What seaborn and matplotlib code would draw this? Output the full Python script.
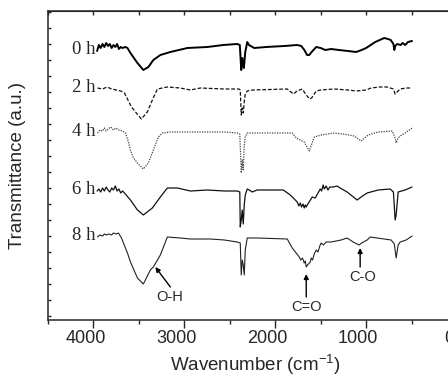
import pandas as pd
import matplotlib
matplotlib.use("Agg")
import matplotlib.pyplot as plt
import matplotlib.transforms as mtrans
from matplotlib.ticker import MultipleLocator, FixedLocator, NullFormatter
import seaborn as sns
import numpy as np

# FTIR spectra (wavenumber in cm-1, transmittance in a.u., curves already stacked)
wn_0h = [3960, 3940, 3920, 3900, 3880, 3860, 3840, 3820, 3800, 3780, 3760, 3740, 3720, 3700, 3680, 3650,
         3626, 3593, 3516, 3451, 3396, 3341, 3264, 3154, 2967, 2747, 2571, 2420, 2390, 2374, 2362, 2345,
         2330, 2308, 2290, 2231, 2100, 1900, 1760, 1714, 1680, 1650, 1626, 1600, 1549, 1500, 1450, 1385,
         1300, 1200, 1110, 1050, 1000, 950, 900, 850, 802, 760, 730, 700, 690, 680, 660, 620, 600, 570,
         540, 495]
t_0h = [269, 275, 272, 276, 273, 277, 274, 276, 272, 275, 273, 276, 271, 273, 272, 273,
        272, 267, 257, 250, 253, 260, 265, 268, 272, 273, 275, 276, 275, 250, 262, 252,
        268, 278, 275, 272, 273, 274, 275, 274, 270, 265, 265, 268, 273, 272, 270, 271,
        270, 269, 268, 270, 272, 275, 278, 280, 282, 281, 280, 276, 270, 274, 276, 275, 277, 275,
        278, 279]

wn_2h = [3956, 3900, 3850, 3800, 3750, 3700, 3659, 3582, 3473, 3407, 3352, 3297, 3187, 3044, 2934,
         2824, 2560, 2400, 2385, 2374, 2363, 2352, 2341, 2330, 2308, 2250, 1868, 1800, 1760, 1703,
         1660, 1620, 1600, 1549, 1500, 1352, 1200, 1110, 1000, 945, 850, 769, 700, 681, 660, 626,
         560, 495]
t_2h = [232, 231, 233, 231, 230, 229, 227, 213, 201, 208, 220, 231, 233, 232, 230,
        232, 231, 231, 230, 205, 212, 207, 218, 226, 229, 230, 231, 226, 229, 231,
        225, 221, 222, 229, 230, 231, 230, 229, 230, 232, 233, 233, 231, 226, 228, 231,
        232, 232]

wn_4h = [3956, 3930, 3900, 3880, 3860, 3840, 3810, 3780, 3750, 3720, 3680, 3648, 3615, 3593, 3560,
         3516, 3451, 3396, 3341, 3286, 3242, 3154, 2934, 2560, 2418, 2390, 2374, 2363, 2352, 2341,
         2330, 2308, 2200, 1813, 1769, 1681, 1626, 1571, 1495, 1352, 1250, 1132, 1055, 978, 868,
         714, 681, 670, 648, 626, 571, 495]
t_4h = [187, 190, 189, 192, 189, 191, 193, 190, 192, 190, 189, 187, 178, 170, 162,
        157, 151, 157, 170, 183, 187, 188, 188, 188, 187, 186, 147, 160, 150, 175,
        183, 187, 187, 187, 182, 178, 169, 183, 185, 187, 186, 184, 179, 185, 188,
        189, 182, 177, 182, 184, 187, 192]

wn_6h = [3960, 3940, 3920, 3900, 3880, 3860, 3840, 3820, 3800, 3780, 3760, 3740, 3720, 3700, 3680,
         3659, 3593, 3516, 3451, 3352, 3264, 3187, 3077, 2934, 2747, 2560, 2418, 2390, 2385, 2374,
         2363, 2352, 2341, 2330, 2308, 2286, 2253, 2200, 1912, 1835, 1758, 1740, 1725, 1710, 1695,
         1681, 1670, 1659, 1648, 1593, 1560, 1505, 1490, 1473, 1460, 1440, 1420, 1400, 1363, 1320,
         1286, 1209, 1154, 1099, 1040, 989, 868, 736, 700, 681, 670, 648, 571, 495]
t_6h = [129, 131, 128, 132, 129, 133, 130, 128, 132, 130, 134, 129, 131, 127, 129,
        127, 120, 110, 105, 112, 123, 132, 132, 129, 130, 129, 129, 128, 93, 100,
        110, 96, 115, 125, 131, 130, 128, 130, 130, 125, 118, 114, 117, 113, 116,
        112, 115, 113, 115, 123, 122, 131, 129, 135, 131, 134, 130, 133, 133, 134,
        132, 128, 124, 120, 124, 127, 130, 131, 128, 100, 105, 128, 130, 133]

wn_8h = [3956, 3930, 3900, 3880, 3860, 3830, 3800, 3780, 3750, 3725, 3692, 3626, 3593, 3516, 3451,
         3374, 3341, 3264, 3187, 3044, 2934, 2714, 2560, 2418, 2385, 2374, 2363, 2352, 2341, 2330,
         2308, 2198, 1868, 1813, 1736, 1720, 1700, 1681, 1670, 1659, 1645, 1615, 1604, 1590, 1571,
         1549, 1530, 1510, 1495, 1470, 1440, 1385, 1275, 1209, 1143, 1077, 1050, 989, 956, 879,
         725, 690, 670, 648, 626, 560, 495]
t_8h = [83, 85, 84, 86, 85, 86, 85, 87, 86, 87, 82, 67, 58, 42, 36,
        50, 53, 65, 83, 82, 81, 81, 80, 78, 77, 45, 60, 55, 45, 70,
        82, 82, 81, 72, 63, 60, 62, 57, 59, 53, 55, 58, 62, 60, 66,
        70, 68, 74, 77, 75, 78, 78, 80, 82, 78, 75, 77, 80, 83, 82,
        80, 76, 62, 75, 78, 80, 84]

labels = ["0 h", "2 h", "4 h", "6 h", "8 h"]
series_wn = [wn_0h, wn_2h, wn_4h, wn_6h, wn_8h]
series_t = [t_0h, t_2h, t_4h, t_6h, t_8h]

df = pd.concat([pd.DataFrame({"wn": w, "t": t, "time": lab})
                for lab, w, t in zip(labels, series_wn, series_t)], ignore_index=True)

sns.set_style("ticks")
plt.rcParams["font.family"] = ["Liberation Sans", "DejaVu Sans"]
plt.rcParams["mathtext.default"] = "regular"
plt.rcParams["ytick.direction"] = "in"

fig = plt.figure(figsize=(4.48, 3.78), dpi=100)
ax = fig.add_axes([48 / 448, 58 / 378, 454.5 / 448, 309 / 378])

styles = {
    "0 h": dict(color="black", lw=1.4, ls="-"),
    "2 h": dict(color="#111111", lw=0.9, ls=(0, (3, 1.5))),
    "4 h": dict(color="#444444", lw=0.9, ls=(0, (1, 1))),
    "6 h": dict(color="#111111", lw=0.9, ls="-"),
    "8 h": dict(color="#222222", lw=0.8, ls="-"),
}
for lab in labels:
    sub = df[df["time"] == lab]
    st = styles[lab]
    sns.lineplot(data=sub, x="wn", y="t", ax=ax, sort=False, estimator=None,
                 color=st["color"], lw=st["lw"], linestyle=st["ls"])
    ax.text(3975, sub["t"].iloc[0] + 1, lab, ha="right", va="center",
            family="Liberation Serif", fontsize=13.5)

ax.set_xlim(4500, -500)
ax.set_ylim(0, 309)
ax.xaxis.set_major_locator(MultipleLocator(1000))
ax.xaxis.set_minor_locator(MultipleLocator(500))
ax.yaxis.set_major_locator(FixedLocator(np.arange(4, 309, 16)))
ax.yaxis.set_major_formatter(NullFormatter())
ax.tick_params(axis="x", which="major", direction="out", length=6, width=1, labelsize=13, pad=1)
ax.tick_params(axis="x", which="minor", direction="out", length=3, width=1)
ax.tick_params(axis="y", which="major", direction="in", length=2.5, width=1, left=True, right=False)
for sp in ax.spines.values():
    sp.set_linewidth(1.1)

top = ax.secondary_xaxis("top")
top.xaxis.set_major_locator(MultipleLocator(500))
top.tick_params(axis="x", direction="in", length=3, width=1, labeltop=False)

shift = mtrans.ScaledTranslation(-8 / 100, 0, fig.dpi_scale_trans)
for lbl in ax.get_xticklabels():
    lbl.set_transform(lbl.get_transform() + shift)

ax.set_xlabel("Wavenumber (cm$^{-1}$)", fontsize=13.5)
ax.xaxis.set_label_coords((255 - 48) / 454.5, -0.107)
ax.set_ylabel("Transmittance (a.u.)", fontsize=13.5, labelpad=12)

# band assignments
arrow = dict(arrowstyle="-|>", color="black", lw=1, mutation_scale=7, shrinkA=0, shrinkB=0)
ax.annotate("", xy=(3319, 53), xytext=(3154, 33), arrowprops=arrow)
ax.text(3165, 23, "O-H", ha="center", va="center", fontsize=10.5)
ax.annotate("", xy=(1659, 46), xytext=(1659, 23), arrowprops=arrow)
ax.text(1659, 13, "C=O", ha="center", va="center", fontsize=10.5)
ax.annotate("", xy=(1066, 72), xytext=(1066, 53), arrowprops=arrow)
ax.text(1044, 43, "C-O", ha="center", va="center", fontsize=10.5)

fig.savefig("out.png", dpi=100)
